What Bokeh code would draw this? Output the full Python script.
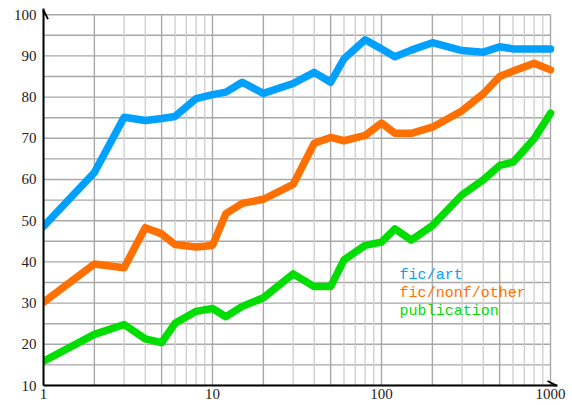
from bokeh.plotting import figure
from bokeh.models import Range1d, FixedTicker, Arrow, OpenHead, ColumnDataSource
from bokeh.core.properties import value
from bokeh.embed import file_html
from bokeh.resources import INLINE

x_vals = [1, 2, 3, 4, 5, 6, 8, 10, 12, 15, 20, 30, 40, 50, 60, 80, 100, 120, 150, 200, 300, 400, 500, 600, 800, 1000]
fic_art = [48.6, 61.7, 75.1, 74.3, 74.8, 75.3, 79.6, 80.6, 81.2, 83.6, 80.9, 83.3, 86.0, 83.6, 89.3, 93.9, 91.7, 89.8, 91.4, 93.2, 91.3, 90.9, 92.2, 91.7, 91.7, 91.7]
fic_nonf_other = [30.2, 39.5, 38.6, 48.3, 46.8, 44.2, 43.6, 44.0, 51.7, 54.2, 55.2, 58.8, 68.8, 70.2, 69.4, 70.7, 73.7, 71.2, 71.2, 72.7, 76.7, 80.8, 85.0, 86.3, 88.2, 86.6]
publication = [15.9, 22.4, 24.8, 21.3, 20.4, 25.1, 28.0, 28.7, 26.7, 29.2, 31.3, 37.1, 34.0, 34.0, 40.5, 44.0, 44.8, 48.0, 45.3, 48.8, 56.3, 59.9, 63.4, 64.2, 69.9, 76.1]

series_names = ["fic/art", "fic/nonf/other", "publication"]
series_colors = ["#00a0ff", "#ff7000", "#00dd00"]

y_ticks = list(range(10, 101, 10))
y_grid = list(range(10, 101, 5))
x_ticks = [1, 10, 100, 1000]
x_grid_dark = [1, 2, 5, 10, 20, 50, 100, 200, 500, 1000]
x_grid_light = [3, 4, 6, 7, 8, 9, 30, 40, 60, 70, 80, 90, 300, 400, 600, 700, 800, 900]

x_min, x_max = 1, 1000
y_min, y_max = 10, 100

legend_x = 128
legend_y = [36.7, 32.4, 28.0]

p = figure(width=572, height=405, x_axis_type="log", output_backend="svg",
           toolbar_location=None,
           x_range=Range1d(1, 1100), y_range=Range1d(10, 101.5),
           min_border_left=43, min_border_right=15, min_border_top=8, min_border_bottom=20)
p.outline_line_color = None
p.background_fill_color = "white"
p.border_fill_color = "white"
p.xgrid.visible = False
p.ygrid.visible = False

# grid lines built from the grid tick arrays
p.segment(x0=[x_min] * len(y_grid), y0=y_grid, x1=[x_max] * len(y_grid), y1=y_grid,
          line_color="#a8a8a8", line_width=1.4)
p.segment(x0=x_grid_light, y0=[y_min] * len(x_grid_light), x1=x_grid_light, y1=[y_max] * len(x_grid_light),
          line_color="#d0d0d0", line_width=1.4)
p.segment(x0=x_grid_dark, y0=[y_min] * len(x_grid_dark), x1=x_grid_dark, y1=[y_max] * len(x_grid_dark),
          line_color="#a8a8a8", line_width=1.4)

for ax, ticks in ((p.xaxis[0], x_ticks), (p.yaxis[0], y_ticks)):
    ax.ticker = FixedTicker(ticks=ticks)
    ax.axis_line_color = "black"
    ax.axis_line_width = 2
    ax.major_tick_out = 0
    ax.major_tick_in = 0
    ax.minor_tick_out = 0
    ax.minor_tick_in = 0
    ax.major_label_text_font = "Liberation Serif"
    ax.major_label_text_font_size = "15px"
    ax.major_label_text_color = "#222222"
p.yaxis[0].major_label_standoff = 7
p.xaxis[0].major_label_standoff = 3
p.xaxis[0].major_label_overrides = {1: "1", 10: "10", 100: "100", 1000: "1000"}

for ys, c in zip([fic_art, fic_nonf_other, publication], series_colors):
    p.line(x_vals, ys, line_color=c, line_width=7.5, line_join="round", line_cap="round")

src = ColumnDataSource(dict(x=[legend_x] * 3, y=legend_y, t=series_names, c=series_colors))
p.text(x="x", y="y", text="t", text_color="c", source=src, text_font=value("Liberation Mono"),
       text_font_size="15px", text_align="left", text_baseline="middle")

# axis arrowheads
p.add_layout(Arrow(x_start=1, y_start=100, x_end=1, y_end=101.1, line_width=2, line_color="black",
                   end=OpenHead(size=9, line_width=1.8, line_color="black")))
p.add_layout(Arrow(x_start=1000, y_start=10, x_end=1085, y_end=10, line_width=2, line_color="black",
                   end=OpenHead(size=9, line_width=1.8, line_color="black")))

open("out.html", "w").write(file_html(p, INLINE))
